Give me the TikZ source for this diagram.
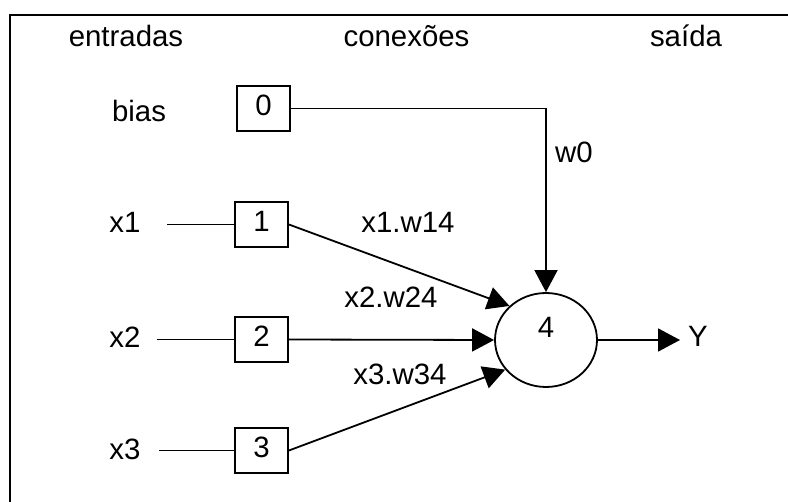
\documentclass[tikz,border=0pt]{standalone}
\usepackage{fontspec}
\setmainfont{Liberation Sans}
\usetikzlibrary{arrows.meta,shapes.geometric}
\begin{document}
\begin{tikzpicture}[x=1pt,y=-1pt,
  txt/.style={font=\fontsize{29.4}{35}\selectfont},
  lbl/.style={txt,anchor=base,inner sep=0pt},
  nbox/.style={txt,draw,line width=1.8pt,minimum width=53pt,minimum height=45pt,inner sep=0pt,text depth=6pt},
  neuron/.style={txt,draw,ellipse,line width=1.8pt,minimum width=102pt,minimum height=94pt,inner sep=0pt,text depth=26pt},
  wire/.style={line width=1.8pt},
  arr/.style={wire,-{Triangle[length=22pt,width=23pt]}}]
\useasboundingbox (0,0) rectangle (788,502);
\clip (0,0) rectangle (788,502);
\fill[white] (0,0) rectangle (788,502);
\draw[line width=2.7pt] (10,15) rectangle (800,520);

% column titles
\node[lbl] (tE) at (126,47) {entradas};
\node[lbl] (tC) at (406.5,47) {conexões};
\node[lbl] (tS) at (686,47) {saída};

% input labels
\node[lbl] (lb) at (139,122) {bias};
\node[lbl] (l1) at (125,233) {x1};
\node[lbl] (l2) at (125,348) {x2};
\node[lbl] (l3) at (125,460) {x3};

% boxes
\node[nbox] (b0) at (263.5,108.5) {0};
\node[nbox] (b1) at (261.5,224.5) {1};
\node[nbox] (b2) at (261.5,339.5) {2};
\node[nbox] (b3) at (261.5,450.5) {3};

% neuron
\node[neuron] (n4) at (546,340) {4};

% output label
\node[txt,inner sep=0pt,inner xsep=8pt,anchor=base west] (Y) at (680,347) {Y};

% input lines
\coordinate (s1) at (167,224.5);
\coordinate (s2) at (157,339.5);
\coordinate (s3) at (159,450.5);
\draw[wire] (s1) -- (b1.west);
\draw[wire] (s2) -- (b2.west);
\draw[wire] (s3) -- (b3.west);

% connections
\draw[arr] (b0.east) -| (n4.north);
\draw[arr] (b1.east) -- (n4.137);
\draw[arr] (b2.east) -- (n4.west);
\draw[arr] (b3.east) -- (n4.216);
\draw[arr] (n4.east) -- (n4.east -| Y.west);

% weight labels
\node[lbl] (w0) at (574,163) {w0};
\node[lbl] (w1) at (408,233) {x1.w14};
\node[lbl] (w2) at (391,308) {x2.w24};
\node[lbl] (w3) at (400,385) {x3.w34};
\end{tikzpicture}
\end{document}
